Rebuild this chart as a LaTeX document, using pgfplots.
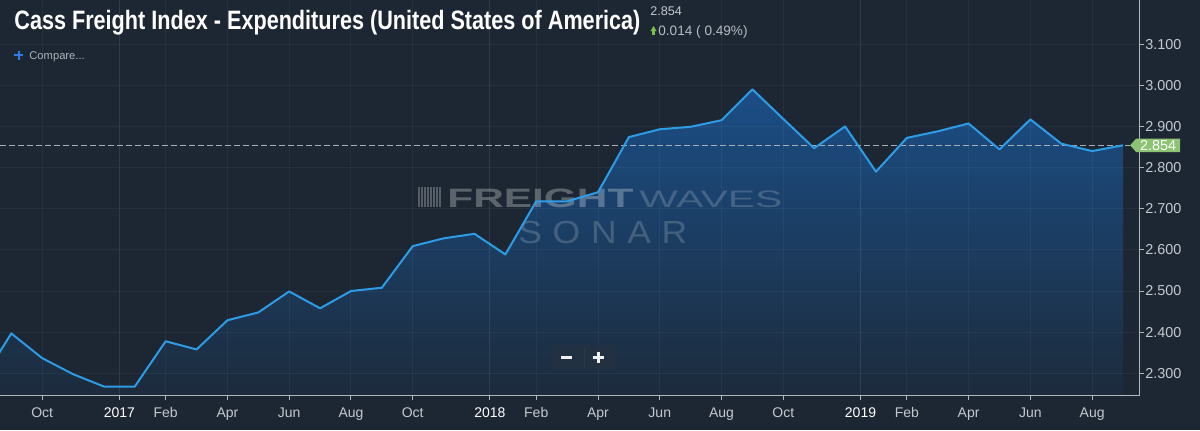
\documentclass[border=0pt]{standalone}
\usepackage{pgfplots}
\pgfplotsset{compat=1.18}
\usepackage{pgfplotstable}
\usepackage{graphicx}
\usepackage{fontspec}
\setmainfont{Liberation Sans}
\newfontfamily\titlefont[FakeStretch=0.813]{Liberation Sans}

\definecolor{bgc}{HTML}{1D2733}
\definecolor{axisc}{HTML}{AEB6BE}
\definecolor{labelc}{HTML}{C3C9CF}
\definecolor{linec}{HTML}{2D9CE6}
\definecolor{areatop}{HTML}{1B4E86}
\definecolor{areamid}{HTML}{1B4270}
\definecolor{areabot}{HTML}{1C2B3C}
\definecolor{dashc}{HTML}{A8AEB4}
\definecolor{greenlab}{HTML}{8CC473}
\definecolor{upgreen}{HTML}{79C143}
\definecolor{plusblue}{HTML}{2F7FE3}
\definecolor{btnc}{HTML}{243241}
\definecolor{sepc}{HTML}{2C3946}

\pgfplotstableread{
x y
-5 2.276
-4 2.397
-3 2.337
-2 2.298
-1 2.268
0 2.268
1 2.378
2 2.358
3 2.429
4 2.448
5 2.499
6 2.458
7 2.500
8 2.508
9 2.609
10 2.628
11 2.639
12 2.589
13 2.718
14 2.718
15 2.740
16 2.874
17 2.893
18 2.899
19 2.915
20 2.990
21 2.918
22 2.847
23 2.900
24 2.790
25 2.872
26 2.888
27 2.907
28 2.844
29 2.917
30 2.858
31 2.840
32 2.854
}\cass

\pgfplotsset{common/.style={
  at={(0,17.15pt)}, anchor=south west,
  scale only axis, width=569.75pt, height=197.85pt,
  xmin=-4.365, xmax=32.535, ymin=2.2457, ymax=3.207,
}}

\begin{document}
\begin{tikzpicture}
\fill[bgc] (0,0) rectangle (600pt,215pt);

\begin{axis}[common,
  axis x line*=bottom, axis y line*=right,
  axis line style={draw=axisc, line width=0.5pt, -},
  tick align=outside, major tick length=2pt,
  tick style={draw=axisc, line width=0.5pt},
  xtick={-3,1,3,5,7,9,13,15,17,19,21,25,27,29,31},
  xticklabels={Oct,Feb,Apr,Jun,Aug,Oct,Feb,Apr,Jun,Aug,Oct,Feb,Apr,Jun,Aug},
  extra x ticks={-0.5,11.5,23.5},
  extra x tick labels={2017,2018,2019},
  extra x tick style={major grid style={draw=white, draw opacity=0.09, line width=0.5pt}, xticklabel style={text=white}},
  ytick={2.3,2.4,2.5,2.6,2.7,2.8,2.9,3.0,3.1},
  yticklabels={2.300,2.400,2.500,2.600,2.700,2.800,2.900,3.000,3.100},
  grid=major, major grid style={draw=white, draw opacity=0.045, line width=0.5pt},
  axis on top,
  xticklabel style={font=\fontsize{7}{8}\selectfont, text=labelc, anchor=base, yshift=-9pt},
  yticklabel style={font=\fontsize{7.2}{8}\selectfont, text=labelc, anchor=west, inner sep=0pt, xshift=0.75pt},
]
\addplot[draw=none, mark=none, top color=areatop, middle color=areamid, bottom color=areabot]
  table {\cass} -- (axis cs:32,2.2457) -- (axis cs:-5,2.2457) -- cycle;
\end{axis}

% watermark and overlays in pixel coordinates
\begin{scope}[x=0.5pt, y=-0.5pt, yshift=215pt]
  \foreach \i in {0,...,7} {
    \draw[white, opacity=0.25, line width=0.7pt] (419+3*\i,187) -- (419+3*\i,207);
  }
  \node[anchor=base west, inner sep=0pt, text=white, text opacity=0.28] at (447,207)
    {\resizebox{93pt}{\height}{\fontsize{13.3}{14}\selectfont\bfseries FREIGHT}};
  \node[anchor=base west, inner sep=0pt, text=white, text opacity=0.18] at (639,207)
    {\resizebox{71.5pt}{\height}{\fontsize{11.9}{14}\selectfont WAVES}};
  \node[anchor=base west, inner sep=0pt, text=white, text opacity=0.18] at (518,243)
    {\resizebox{84.5pt}{\height}{\fontsize{16}{18}\selectfont\addfontfeatures{LetterSpace=30}SONAR}};
  % zoom buttons
  \fill[btnc, opacity=0.85, rounded corners=1pt] (552,345) rectangle (616,369);
  \draw[sepc, line width=0.5pt] (584,347) -- (584,367);
  \draw[white!88!gray, line width=1.2pt] (561,357.5) -- (572,357.5);
  \draw[white!88!gray, line width=1.2pt] (593,357.5) -- (604,357.5);
  \draw[white!88!gray, line width=1.2pt] (598.5,352) -- (598.5,363);
\end{scope}

\begin{axis}[common, hide axis]
\addplot[dashc, dash pattern=on 3pt off 1.5pt, line width=0.5pt, mark=none]
  coordinates {(-4.365,2.854) (32.23,2.854)};
\addplot[linec, line width=1pt, mark=none, line join=round] table {\cass};
\coordinate (lab) at (axis cs:32.23,2.854);
\end{axis}

\fill[greenlab] (lab) -- ++(3pt,3.35pt) -- ++(22pt,0) -- ++(0,-6.7pt) -- ++(-22pt,0) -- cycle;
\node[text=white, font=\fontsize{7.2}{8}\selectfont, inner sep=0pt] at ([xshift=14pt]lab) {2.854};

\begin{scope}[x=0.5pt, y=-0.5pt, yshift=215pt]
  \node[anchor=base west, inner sep=0pt, text=white, font=\titlefont\bfseries\fontsize{13.3}{14}\selectfont] at (14,29)
    {Cass Freight Index - Expenditures (United States of America)};
  \node[anchor=base west, inner sep=0pt, text=labelc, font=\fontsize{6.3}{7}\selectfont] at (650,15) {2.854};
  \fill[upgreen] (650.5,31) -- (653.5,26) -- (656.5,31) -- cycle;
  \fill[upgreen] (652.4,30.5) rectangle (654.6,34.5);
  \node[anchor=base west, inner sep=0pt, text=labelc!92!bgc, font=\fontsize{6.8}{8}\selectfont] at (658,35.5) {0.014 ( 0.49\%)};
  \draw[plusblue, line width=1pt] (14,55) -- (23,55);
  \draw[plusblue, line width=1pt] (18.5,50.5) -- (18.5,59.5);
  \node[anchor=base west, inner sep=0pt, text=labelc!85!bgc, font=\fontsize{5.6}{7}\selectfont] at (29,59) {Compare...};
\end{scope}

\pgfresetboundingbox
\useasboundingbox (0,0) rectangle (600pt,215pt);
\end{tikzpicture}
\end{document}
